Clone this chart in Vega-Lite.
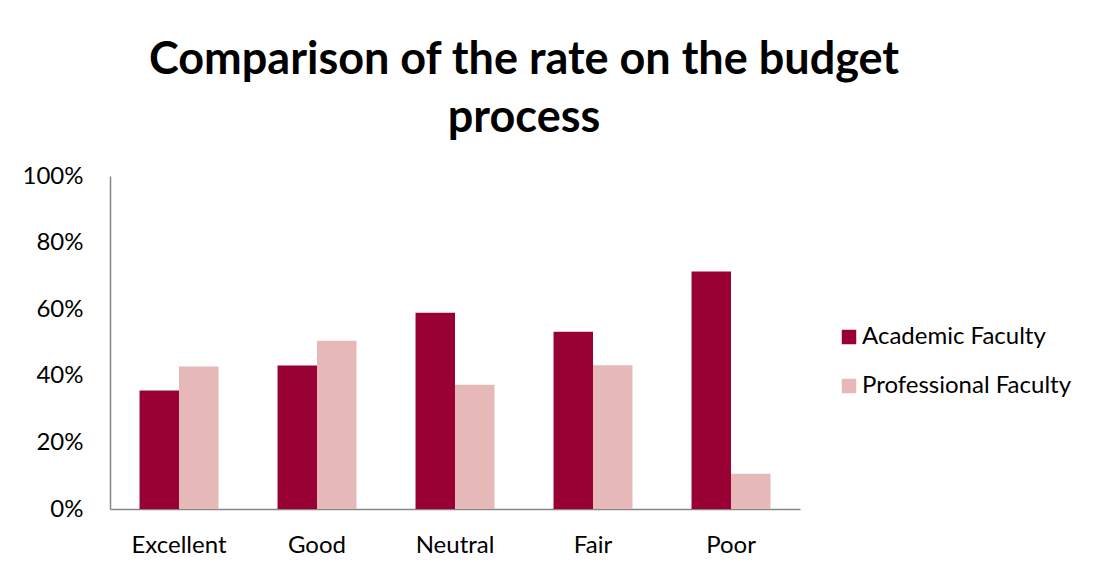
{
  "$schema": "https://vega.github.io/schema/vega-lite/v6.json",
  "autosize": {"type": "none"},
  "width": 690,
  "height": 333,
  "padding": {"left": 110, "top": 176, "right": 299, "bottom": 64},
  "background": "white",
  "title": {
    "text": ["Comparison of the rate on the budget", "process"],
    "anchor": "middle",
    "frame": "group",
    "dx": 69,
    "offset": 23,
    "fontSize": 45,
    "lineHeight": 58,
    "font": "Lato",
    "fontWeight": "bold",
    "color": "black"
  },
  "data": {
    "values": [
      {"rating": "Excellent", "group": "Academic Faculty", "value": 0.356},
      {"rating": "Excellent", "group": "Professional Faculty", "value": 0.428},
      {"rating": "Good", "group": "Academic Faculty", "value": 0.431},
      {"rating": "Good", "group": "Professional Faculty", "value": 0.505},
      {"rating": "Neutral", "group": "Academic Faculty", "value": 0.589},
      {"rating": "Neutral", "group": "Professional Faculty", "value": 0.373},
      {"rating": "Fair", "group": "Academic Faculty", "value": 0.532},
      {"rating": "Fair", "group": "Professional Faculty", "value": 0.432},
      {"rating": "Poor", "group": "Academic Faculty", "value": 0.713},
      {"rating": "Poor", "group": "Professional Faculty", "value": 0.106}
    ]
  },
  "mark": {"type": "bar"},
  "encoding": {
    "x": {
      "field": "rating",
      "type": "nominal",
      "sort": ["Excellent", "Good", "Neutral", "Fair", "Poor"],
      "scale": {"paddingInner": 0.428, "paddingOuter": 0.214},
      "axis": {
        "title": null,
        "labelAngle": 0,
        "ticks": false,
        "domainColor": "#868686",
        "domainWidth": 1.5,
        "labelPadding": 24,
        "labelFontSize": 24,
        "labelFont": "Lato",
        "labelColor": "black"
      }
    },
    "xOffset": {"field": "group", "type": "nominal", "scale": {"paddingInner": 0, "paddingOuter": 0}},
    "y": {
      "field": "value",
      "type": "quantitative",
      "scale": {"domain": [0, 1], "nice": false},
      "axis": {
        "title": null,
        "values": [0, 0.2, 0.4, 0.6, 0.8, 1],
        "format": ".0%",
        "grid": false,
        "ticks": false,
        "domainColor": "#868686",
        "domainWidth": 1.5,
        "labelPadding": 27,
        "labelFontSize": 24,
        "labelFont": "Lato",
        "labelColor": "black"
      }
    },
    "color": {
      "field": "group",
      "type": "nominal",
      "scale": {"domain": ["Academic Faculty", "Professional Faculty"], "range": ["#990033", "#E6B9B8"]},
      "legend": {
        "title": null,
        "orient": "none",
        "legendX": 727,
        "legendY": 149,
        "symbolType": "square",
        "symbolSize": 210,
        "symbolStrokeWidth": 0,
        "labelFontSize": 24,
        "labelFont": "Lato",
        "labelColor": "black",
        "labelOffset": 1,
        "labelLimit": 400,
        "rowPadding": 25
      }
    }
  },
  "config": {
    "view": {"stroke": null}
  }
}
